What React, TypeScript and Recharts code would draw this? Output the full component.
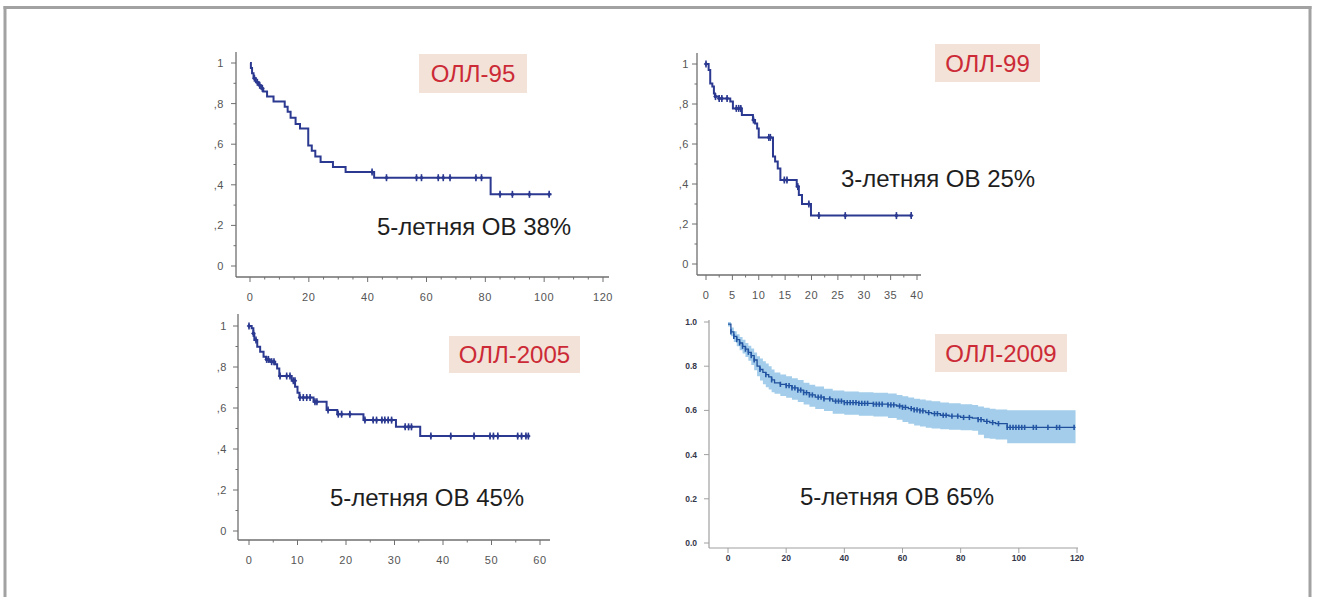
import React from 'react';
import { ComposedChart, Line, Area, XAxis, YAxis } from 'recharts';

const FONT = '"Liberation Sans", Arial, Helvetica, sans-serif';

// ОЛЛ-95 (months / overall survival)
const oll95Times = [0, 0.3, 0.7, 1.2, 2, 3, 3.8, 4.5, 5.8, 8, 11.8, 12.8, 13.8, 15.5, 17, 19.8, 21, 22.2, 24, 28.2, 32.5, 42.2, 81.8, 102.5];
const oll95Surv = [1.0, 0.975, 0.95, 0.925, 0.905, 0.89, 0.875, 0.86, 0.835, 0.81, 0.785, 0.76, 0.73, 0.7, 0.677, 0.594, 0.568, 0.54, 0.512, 0.488, 0.463, 0.435, 0.353, 0.353];
const oll95Censored = [1.5, 2.5, 3.3, 4.2, 41.5, 46.4, 56.6, 58.3, 64, 65.7, 68, 76.8, 78.7, 85, 89.2, 95, 101.7];

// ОЛЛ-99
const oll99Times = [0, 0.5, 0.8, 1.2, 1.5, 1.7, 2.4, 4.6, 5.1, 6.8, 8.9, 9.3, 9.7, 10, 12.7, 13.1, 13.6, 14.1, 17.2, 17.6, 18.2, 19.9, 39];
const oll99Surv = [1.0, 0.97, 0.903, 0.887, 0.853, 0.837, 0.828, 0.812, 0.778, 0.745, 0.72, 0.703, 0.678, 0.633, 0.537, 0.512, 0.478, 0.42, 0.387, 0.345, 0.3, 0.242, 0.242];
const oll99Censored = [0, 1.8, 2.5, 3.0, 4.0, 5.75, 6.2, 6.6, 9.0, 11.9, 12.2, 14.85, 15.35, 17.4, 19.5, 21.4, 26.4, 36.1, 38.9];

// ОЛЛ-2005
const oll2005Times = [0, 0.55, 0.9, 1.1, 1.7, 2.3, 3.0, 3.5, 4.3, 5.4, 5.8, 6.25, 8.8, 9.5, 10, 10.4, 13.3, 16, 18.2, 23.6, 30.3, 35.3, 57.6];
const oll2005Surv = [1.0, 0.989, 0.964, 0.932, 0.899, 0.875, 0.85, 0.837, 0.826, 0.814, 0.793, 0.756, 0.733, 0.704, 0.674, 0.651, 0.63, 0.59, 0.57, 0.541, 0.508, 0.463, 0.463];
const oll2005Censored = [0, 0.9, 1.44, 3.64, 4.0, 4.67, 5.15, 6.4, 7.77, 8.45, 9.14, 9.48, 10.5, 11.2, 11.9, 12.6, 13.6, 14.0, 16.3, 18.4, 19.1, 20.8, 23.9, 25.6, 26.3, 27.4, 28.0, 28.7, 29.4, 32.2, 32.9, 33.5, 37.5, 41.6, 46.4, 49.7, 50.4, 51.3, 55.4, 56.2, 57.1, 57.6];

// ОЛЛ-2009 (with 95% CI band)
const oll2009Times = [0, 1, 2, 3, 4, 5, 6, 7, 8, 9, 10, 11, 12, 13, 14, 15, 16, 18, 20, 22, 24, 26, 28, 30, 33, 36, 40, 45, 50, 55, 58, 60, 62, 64, 66, 68, 70, 73, 76, 80, 84, 86, 88, 90, 92, 96, 119.5];
const oll2009Surv = [0.99, 0.955, 0.935, 0.92, 0.905, 0.89, 0.877, 0.863, 0.848, 0.828, 0.8, 0.785, 0.772, 0.762, 0.752, 0.738, 0.725, 0.718, 0.712, 0.702, 0.692, 0.68, 0.67, 0.66, 0.652, 0.642, 0.635, 0.632, 0.628, 0.625, 0.62, 0.614, 0.608, 0.602, 0.598, 0.59, 0.585, 0.578, 0.574, 0.568, 0.565, 0.558, 0.55, 0.545, 0.54, 0.523, 0.523];
const oll2009Upper = [1.0, 0.975, 0.958, 0.945, 0.932, 0.92, 0.905, 0.893, 0.88, 0.862, 0.845, 0.835, 0.822, 0.812, 0.8, 0.785, 0.772, 0.762, 0.755, 0.745, 0.737, 0.725, 0.716, 0.708, 0.698, 0.69, 0.686, 0.682, 0.68, 0.676, 0.67, 0.664, 0.658, 0.653, 0.649, 0.645, 0.641, 0.636, 0.632, 0.628, 0.625, 0.618, 0.612, 0.608, 0.604, 0.601, 0.601];
const oll2009Lower = [0.98, 0.935, 0.91, 0.89, 0.872, 0.858, 0.842, 0.825, 0.805, 0.782, 0.755, 0.735, 0.718, 0.705, 0.695, 0.682, 0.675, 0.665, 0.657, 0.648, 0.638, 0.627, 0.617, 0.606, 0.597, 0.585, 0.58, 0.576, 0.572, 0.566, 0.558, 0.548, 0.54, 0.532, 0.527, 0.521, 0.518, 0.515, 0.513, 0.51, 0.508, 0.49, 0.474, 0.472, 0.468, 0.451, 0.451];
const oll2009Censored = [1, 2, 3, 4, 5, 6, 7, 8, 9, 11, 13, 15, 18, 20, 21, 22, 23, 24, 25, 26, 27, 28, 29, 31, 32, 33, 35, 37, 38, 39, 40, 41, 42, 43, 44, 45, 46, 47, 48, 50, 51, 52, 53, 55, 56, 57, 59, 60, 61, 63, 64, 65, 66, 67, 69, 71, 72, 74, 75, 77, 79, 81, 83, 86, 87, 89, 91, 93, 96, 97, 98, 99, 100, 101, 102, 105, 106, 110, 113, 114, 119];

const ticksY01 = [0, 0.1, 0.2, 0.3, 0.4, 0.5, 0.6, 0.7, 0.8, 0.9, 1];
const ticksY02 = [0, 0.2, 0.4, 0.6, 0.8, 1];
const ticksX95 = [0, 5, 10, 15, 20, 25, 30, 35, 40, 45, 50, 55, 60, 65, 70, 75, 80, 85, 90, 95, 100, 105, 110, 115, 120];
const ticksX99 = [0, 2.5, 5, 7.5, 10, 12.5, 15, 17.5, 20, 22.5, 25, 27.5, 30, 32.5, 35, 37.5, 40];
const ticksX2005 = [0, 5, 10, 15, 20, 25, 30, 35, 40, 45, 50, 55, 60];
const ticksX2009 = [0, 20, 40, 60, 80, 100, 120];

const curveOf = (times: number[], surv: number[]) => times.map((t, i) => ({ t, s: surv[i] }));
const survAt = (times: number[], surv: number[], t: number) => {
  let v = surv[0];
  times.forEach((tt, i) => { if (tt <= t) v = surv[i]; });
  return v;
};
const censorsOf = (times: number[], surv: number[], cens: number[]) =>
  cens.map((t) => ({ t, s: survAt(times, surv, t) }));

const isMajor = (v: number, step: number) => Math.abs(v / step - Math.round(v / step)) < 1e-6;
const spssFmt = (v: number) => (v === 1 ? '1' : v === 0 ? '0' : ',' + Math.round(v * 10));

interface TickStyle {
  major: number;
  majorLen: number;
  minorLen: number;
  gap: number;
  stroke: string;
  fill: string;
  fontSize: number;
  spacing: number;
  weight?: number;
  fmt: (v: number) => string;
}

const makeYTick = (st: TickStyle) => (props: any) => {
  const { x, y, payload } = props;
  const v = payload.value;
  const maj = isMajor(v, st.major);
  return (
    <g>
      <line x1={x - (maj ? st.majorLen : st.minorLen)} x2={x} y1={y} y2={y} stroke={st.stroke} strokeWidth={1} />
      {maj && (
        <text x={x - st.gap} y={y} textAnchor="end" dominantBaseline="central" fontFamily={FONT}
          fontSize={st.fontSize} fill={st.fill} letterSpacing={st.spacing} fontWeight={st.weight || 400}>
          {st.fmt(v)}
        </text>
      )}
    </g>
  );
};

const makeXTick = (st: TickStyle) => (props: any) => {
  const { x, y, payload } = props;
  const v = payload.value;
  const maj = isMajor(v, st.major);
  return (
    <g>
      <line x1={x} x2={x} y1={y} y2={y + (maj ? st.majorLen : st.minorLen)} stroke={st.stroke} strokeWidth={1} />
      {maj && (
        <text x={x} y={y + st.gap} textAnchor="middle" dominantBaseline="central" fontFamily={FONT}
          fontSize={st.fontSize} fill={st.fill} letterSpacing={st.spacing} fontWeight={st.weight || 400}>
          {st.fmt(v)}
        </text>
      )}
    </g>
  );
};

const SpssMark = (props: any) => {
  const { cx, cy, index } = props;
  if (cx == null || cy == null) return <g key={index} />;
  return (
    <g key={index}>
      <line x1={cx} x2={cx} y1={cy - 3.5} y2={cy + 3.5} stroke="#2b3990" strokeWidth={1.6} />
      <path d={`M${cx - 2.3},${cy} L${cx},${cy - 2.3} L${cx + 2.3},${cy} L${cx},${cy + 2.3} Z`} fill="#2b3990" />
    </g>
  );
};

const RMark = (props: any) => {
  const { cx, cy, index } = props;
  if (cx == null || cy == null) return <g key={index} />;
  return <line key={index} x1={cx} x2={cx} y1={cy - 2.6} y2={cy + 2.6} stroke="#2456a6" strokeWidth={1.6} />;
};

const SPSS_AXIS = '#6f6f6f';

interface SpssProps {
  left: number; top: number; width: number; height: number;
  yAxisWidth: number; marginTop: number;
  xMax: number; xTicks: number[]; xMajor: number;
  xPad: { left: number; right: number }; yPad: { top: number; bottom: number };
  yGap: number;
  times: number[]; surv: number[]; censored: number[];
}

function SpssKm(p: SpssProps) {
  const curve = curveOf(p.times, p.surv);
  const marks = censorsOf(p.times, p.surv, p.censored);
  const base = { majorLen: 5, minorLen: 2.5, stroke: SPSS_AXIS, fill: '#555', fontSize: 11, spacing: 0.6 };
  return (
    <div style={{ position: 'absolute', left: p.left, top: p.top }}>
      <ComposedChart width={p.width} height={p.height} margin={{ top: p.marginTop, right: 10, left: 0, bottom: 0 }}>
        <XAxis type="number" dataKey="t" domain={[0, p.xMax]} ticks={p.xTicks} interval={0} padding={p.xPad}
          height={30} axisLine={{ stroke: SPSS_AXIS, strokeWidth: 1.3 }} tickLine={false} tickSize={0} tickMargin={0}
          tick={makeXTick({ ...base, major: p.xMajor, gap: 20, fmt: (v) => String(v) })} />
        <YAxis type="number" dataKey="s" domain={[0, 1]} ticks={ticksY01} interval={0} padding={p.yPad}
          width={p.yAxisWidth} axisLine={{ stroke: SPSS_AXIS, strokeWidth: 1.3 }} tickLine={false} tickSize={0} tickMargin={0}
          tick={makeYTick({ ...base, major: 0.2, gap: p.yGap, fmt: spssFmt })} />
        <Line data={curve} dataKey="s" type="stepAfter" stroke="#2b3990" strokeWidth={2} dot={false} isAnimationActive={false} />
        <Line data={marks} dataKey="s" stroke="none" dot={SpssMark} activeDot={false} isAnimationActive={false} />
      </ComposedChart>
    </div>
  );
}

function Oll2009Chart() {
  const data = oll2009Times.map((t, i) => ({ t, s: oll2009Surv[i], ci: [oll2009Lower[i], oll2009Upper[i]] }));
  const marks = censorsOf(oll2009Times, oll2009Surv, oll2009Censored);
  const st = { majorLen: 5, minorLen: 5, stroke: '#a0a0a0', fill: '#34384a', fontSize: 8.5, spacing: 0, weight: 700 };
  return (
    <div style={{ position: 'absolute', left: 660, top: 315 }}>
      <ComposedChart width={428} height={263} margin={{ top: 5, right: 10, left: 0, bottom: 0 }}>
        <XAxis type="number" dataKey="t" domain={[0, 120]} ticks={ticksX2009} interval={0} padding={{ left: 19, right: 1 }}
          height={30} axisLine={{ stroke: '#a0a0a0', strokeWidth: 1.2 }} tickLine={false} tickSize={0} tickMargin={0}
          tick={makeXTick({ ...st, major: 20, gap: 10, fmt: (v) => String(v) })} />
        <YAxis type="number" domain={[0, 1]} ticks={ticksY02} interval={0} padding={{ top: 2, bottom: 5 }}
          width={49} axisLine={{ stroke: '#a0a0a0', strokeWidth: 1.2 }} tickLine={false} tickSize={0} tickMargin={0}
          tick={makeYTick({ ...st, major: 0.2, gap: 12, fmt: (v) => v.toFixed(1) })} />
        <Area data={data} dataKey="ci" type="stepAfter" fill="#a3cdea" fillOpacity={1} stroke="none" isAnimationActive={false} />
        <Line data={data} dataKey="s" type="stepAfter" stroke="#1f4f9a" strokeWidth={1.3} dot={false} isAnimationActive={false} />
        <Line data={marks} dataKey="s" stroke="none" dot={RMark} activeDot={false} isAnimationActive={false} />
      </ComposedChart>
    </div>
  );
}

const Label = ({ x, y, w, h, text }: { x: number; y: number; w: number; h: number; text: string }) => (
  <g>
    <rect x={x} y={y} width={w} height={h} fill="#f2e2d7" />
    <text x={x + w / 2} y={y + h / 2 + 8.6} textAnchor="middle" fontFamily={FONT} fontSize={24} fill="#cc2a36">{text}</text>
  </g>
);

const Caption = ({ x, y, text }: { x: number; y: number; text: string }) => (
  <text x={x} y={y} fontFamily={FONT} fontSize={24} fill="#1e1e1e">{text}</text>
);

export default function App() {
  return (
    <div style={{ position: 'absolute', left: 0, top: 0, width: 1317, height: 597, background: '#fff', overflow: 'hidden' }}>
      <SpssKm left={200} top={47} width={419} height={260} yAxisWidth={36} marginTop={5}
        xMax={120} xTicks={ticksX95} xMajor={20} xPad={{ left: 14, right: 6 }} yPad={{ top: 11, bottom: 11 }} yGap={12}
        times={oll95Times} surv={oll95Surv} censored={oll95Censored} />
      <SpssKm left={660} top={48} width={271} height={257} yAxisWidth={37} marginTop={5}
        xMax={40} xTicks={ticksX99} xMajor={5} xPad={{ left: 9, right: 4 }} yPad={{ top: 11, bottom: 11 }} yGap={8}
        times={oll99Times} surv={oll99Surv} censored={oll99Censored} />
      <SpssKm left={200} top={309} width={360} height={261} yAxisWidth={38} marginTop={5}
        xMax={60} xTicks={ticksX2005} xMajor={10} xPad={{ left: 11, right: 10 }} yPad={{ top: 12, bottom: 9 }} yGap={11}
        times={oll2005Times} surv={oll2005Surv} censored={oll2005Censored} />
      <Oll2009Chart />
      <svg width={1317} height={597} style={{ position: 'absolute', left: 0, top: 0, pointerEvents: 'none' }}>
        <line x1={5} x2={5} y1={6} y2={597} stroke="#a2a2a2" strokeWidth={3} />
        <line x1={3.5} x2={1311.5} y1={7.5} y2={7.5} stroke="#a2a2a2" strokeWidth={3} />
        <line x1={1310} x2={1310} y1={6} y2={597} stroke="#a2a2a2" strokeWidth={3} />
        <Label x={419} y={54} w={108} h={39} text="ОЛЛ-95" />
        <Label x={935} y={44} w={105} h={38} text="ОЛЛ-99" />
        <Label x={449} y={336} w={131} h={37} text="ОЛЛ-2005" />
        <Label x={935} y={334} w={132} h={38} text="ОЛЛ-2009" />
        <Caption x={377} y={235} text="5-летняя ОВ 38%" />
        <Caption x={841} y={187} text="3-летняя ОВ 25%" />
        <Caption x={330} y={506} text="5-летняя ОВ 45%" />
        <Caption x={800} y={505} text="5-летняя ОВ 65%" />
      </svg>
    </div>
  );
}
